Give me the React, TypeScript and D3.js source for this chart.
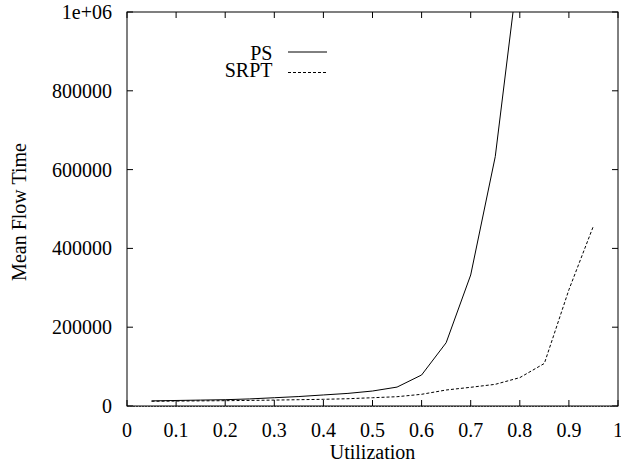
import React from "react";
import * as d3 from "d3";

const utilization = [0.05, 0.1, 0.15, 0.2, 0.25, 0.3, 0.35, 0.4, 0.45, 0.5, 0.55, 0.6, 0.65, 0.7, 0.75, 0.8];
const psValues = [13000, 14000, 15000, 16000, 18000, 21000, 24000, 28000, 32000, 38000, 48000, 78700, 160600, 332500, 633000, 1140000];
const srptUtil = [0.05, 0.1, 0.15, 0.2, 0.25, 0.3, 0.35, 0.4, 0.45, 0.5, 0.55, 0.6, 0.65, 0.7, 0.75, 0.8, 0.85, 0.9, 0.95];
const srptValues = [12000, 12500, 13000, 13500, 14200, 15000, 16000, 17000, 18500, 21000, 23600, 29700, 40600, 47500, 55000, 72000, 108000, 295000, 457000];
const xTicks = [0, 0.1, 0.2, 0.3, 0.4, 0.5, 0.6, 0.7, 0.8, 0.9, 1];
const xTickLabels = ["0", "0.1", "0.2", "0.3", "0.4", "0.5", "0.6", "0.7", "0.8", "0.9", "1"];
const yTicks = [0, 200000, 400000, 600000, 800000, 1000000];
const yTickLabels = ["0", "200000", "400000", "600000", "800000", "1e+06"];

const W = 621, H = 465;
const L = 127, R = 618, T = 12, B = 406;
const FONT = "'Liberation Serif', 'Times New Roman', serif";

export default function App() {
  const x = d3.scaleLinear().domain([0, 1]).range([L, R]);
  const y = d3.scaleLinear().domain([0, 1000000]).range([B, T]);
  const line = d3.line<[number, number]>().x(d => x(d[0])).y(d => y(d[1]));
  const psPath = line(utilization.map((u, i) => [u, psValues[i]] as [number, number])) || "";
  const srptPath = line(srptUtil.map((u, i) => [u, srptValues[i]] as [number, number])) || "";
  const tl = 6;
  return (
    <svg width={W} height={H} style={{ position: "absolute", left: 0, top: 0, background: "#fff" }} fontFamily={FONT}>
      <defs>
        <clipPath id="plot">
          <rect x={L} y={T} width={R - L} height={B - T} />
        </clipPath>
      </defs>
      <rect x={0} y={0} width={W} height={H} fill="#fff" />
      {xTicks.map((t, i) => (
        <g key={"x" + i}>
          <line x1={x(t)} x2={x(t)} y1={B} y2={B - tl} stroke="#000" />
          <line x1={x(t)} x2={x(t)} y1={T} y2={T + tl} stroke="#000" />
          <text x={x(t)} y={436.5} fontSize={20} textAnchor="middle" fill="#000">{xTickLabels[i]}</text>
        </g>
      ))}
      {yTicks.map((t, i) => (
        <g key={"y" + i}>
          <line x1={L} x2={L + tl} y1={y(t)} y2={y(t)} stroke="#000" />
          <line x1={R} x2={R - tl} y1={y(t)} y2={y(t)} stroke="#000" />
          <text x={112} y={y(t) + 7} fontSize={20} textAnchor="end" fill="#000">{yTickLabels[i]}</text>
        </g>
      ))}
      <rect x={L} y={T} width={R - L} height={B - T} fill="none" stroke="#000" strokeWidth={1} />
      <line x1={L} x2={R} y1={B + 0.5} y2={B + 0.5} stroke="#333" strokeWidth={1} strokeDasharray="2,1" />
      <g clipPath="url(#plot)">
        <path d={psPath} fill="none" stroke="#000" strokeWidth={1} />
        <path d={srptPath} fill="none" stroke="#000" strokeWidth={1} strokeDasharray="3,2" />
      </g>
      <text x={272.5} y={59.5} fontSize={20} textAnchor="end" fill="#000">PS</text>
      <line x1={288} x2={327} y1={52} y2={52} stroke="#000" />
      <text x={272.5} y={77} fontSize={20} textAnchor="end" fill="#000">SRPT</text>
      <line x1={288} x2={327} y1={72.5} y2={72.5} stroke="#000" strokeDasharray="3,2" />
      <text x={372.5} y={459} fontSize={20} textAnchor="middle" fill="#000">Utilization</text>
      <text transform={`translate(26, 212) rotate(-90)`} fontSize={20} textAnchor="middle" fill="#000">Mean Flow Time</text>
    </svg>
  );
}
